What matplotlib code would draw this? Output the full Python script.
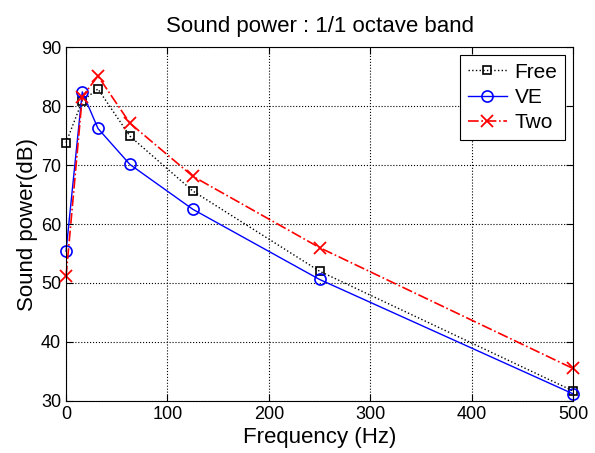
import numpy as np
import matplotlib.pyplot as plt

plt.rcParams['font.family'] = ['Liberation Sans', 'DejaVu Sans']

freq = [0, 16, 31.5, 63, 125, 250, 500]
free = [73.8, 80.9, 82.9, 74.9, 65.6, 52.0, 31.7]
ve = [55.4, 82.4, 76.2, 70.1, 62.5, 50.6, 31.2]
two = [51.1, 81.6, 85.1, 77.1, 68.1, 56.0, 35.5]

fig = plt.figure(figsize=(5.95, 4.53), dpi=100)
ax = fig.add_axes([0.111, 0.115, 0.852, 0.781])

ax.plot(freq, free, color='black', linestyle=':', linewidth=1, marker='s',
        markerfacecolor='none', markeredgecolor='black', markersize=6, markeredgewidth=1.2,
        label='Free', clip_on=False)
ax.plot(freq, ve, color='#0000ff', linestyle='-', linewidth=1, marker='o',
        markerfacecolor='none', markeredgecolor='#0000ff', markersize=8, markeredgewidth=1.2,
        label='VE', clip_on=False)
ax.plot(freq, two, color='#ff0000', linestyle='-.', linewidth=1.2, marker='x',
        markeredgecolor='#ff0000', markersize=9, markeredgewidth=1.3, label='Two', clip_on=False)

ax.set_xlim(0, 500)
ax.set_ylim(30, 90)
ax.set_xticks([0, 100, 200, 300, 400, 500])
ax.set_yticks([30, 40, 50, 60, 70, 80, 90])
ax.grid(True, color='black', linestyle=':', linewidth=0.8)
ax.tick_params(direction='in', top=True, right=True, labelsize=13, length=5)

ax.set_xlabel('Frequency (Hz)', fontsize=16, labelpad=3)
ax.set_ylabel('Sound power(dB)', fontsize=16, labelpad=2)
ax.set_title('Sound power : 1/1 octave band', fontsize=16, pad=11)

leg = ax.legend(loc='upper right', fontsize=15, fancybox=False, framealpha=1,
                edgecolor='black', handlelength=1.9, handletextpad=0.35,
                borderaxespad=0.4, labelspacing=0.3, borderpad=0.35)
leg.get_frame().set_linewidth(0.8)

fig.savefig('out.png', dpi=100)
